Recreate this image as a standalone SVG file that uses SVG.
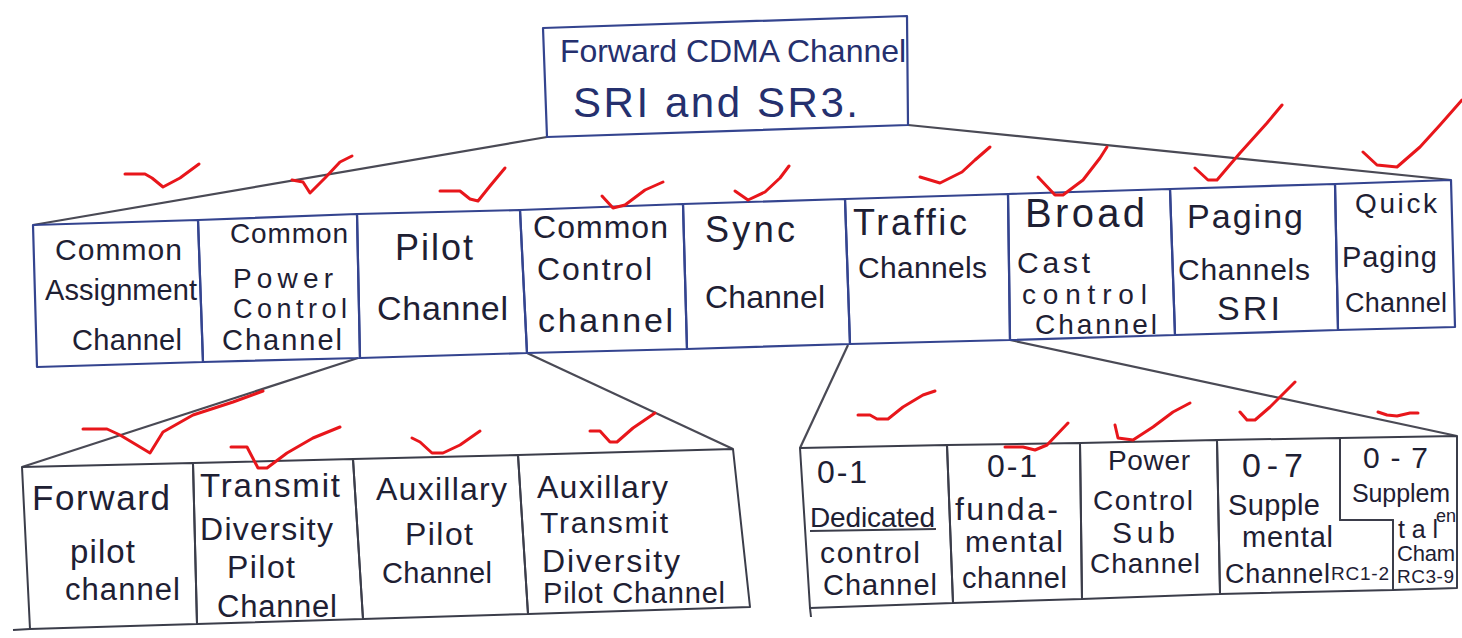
<svg xmlns="http://www.w3.org/2000/svg" width="1462" height="638" viewBox="0 0 1462 638" font-size="29">
  <style>
    .blue { fill: none; stroke: #34448f; stroke-width: 2.2; stroke-linejoin: round; }
    .grey { fill: none; stroke: #3b3d4a; stroke-width: 2; stroke-linejoin: round; }
    .link { fill: none; stroke: #4a4a55; stroke-width: 2.2; }
    .tick { fill: none; stroke: #e8161b; stroke-width: 3; stroke-linecap: round; stroke-linejoin: round; }
    text { font-family: "Liberation Sans", Arial, sans-serif; fill: #1e2033; }
    .hd { fill: #25306e; }
  </style>
  <rect width="1462" height="638" fill="#ffffff"/>

  <!-- connectors -->
  <g id="connectors">
    <line class="link" x1="547" y1="137" x2="33" y2="225"/>
    <line class="link" x1="908" y1="125" x2="1451" y2="180"/>
    <line class="link" x1="358" y1="358" x2="22" y2="467"/>
    <line class="link" x1="527" y1="353" x2="733" y2="449"/>
    <line class="link" x1="848" y1="345" x2="800" y2="448"/>
    <line class="link" x1="1010" y1="340" x2="1457" y2="436"/>
  </g>

  <!-- root -->
  <g id="forward-cdma">
    <polygon class="blue" points="543,28 907,16 908,125 547,137" stroke-width="2.6"/>
    <text class="hd" x="560" y="62" font-size="32" textLength="346">Forward CDMA Channel</text>
    <text class="hd" x="573" y="117" font-size="42" textLength="285">SRI and SR3.</text>
  </g>

  <!-- first level -->
  <g id="common-assignment">
    <polygon class="blue" points="33,225 198,220 203,362 37,367"/>
    <text x="55" y="260" font-size="30" textLength="127">Common</text>
    <text x="45" y="300" textLength="152">Assignment</text>
    <text x="72" y="350" textLength="110">Channel</text>
  </g>
  <g id="common-power-control">
    <polygon class="blue" points="198,220 357,214 360,358 203,362"/>
    <text x="230" y="243" font-size="28" textLength="118">Common</text>
    <text x="233" y="288" font-size="28" textLength="100">Power</text>
    <text x="233" y="318" font-size="27" textLength="114">Control</text>
    <text x="222" y="350" font-size="29" textLength="120">Channel</text>
  </g>
  <g id="pilot">
    <polygon class="blue" points="357,214 520,210 527,353 360,358"/>
    <text x="395" y="260" font-size="36" textLength="78">Pilot</text>
    <text x="377" y="320" font-size="34" textLength="131">Channel</text>
  </g>
  <g id="common-control">
    <polygon class="blue" points="520,210 683,204 687,349 527,353"/>
    <text x="533" y="238" font-size="32" textLength="135">Common</text>
    <text x="537" y="280" font-size="32" textLength="115">Control</text>
    <text x="538" y="332" font-size="34" textLength="135">channel</text>
  </g>
  <g id="sync">
    <polygon class="blue" points="683,204 845,199 850,344 687,349"/>
    <text x="705" y="242" font-size="36" textLength="90">Sync</text>
    <text x="705" y="308" font-size="32" textLength="120">Channel</text>
  </g>
  <g id="traffic">
    <polygon class="blue" points="845,199 1008,194 1010,340 850,344"/>
    <text x="853" y="235" font-size="36" textLength="114">Traffic</text>
    <text x="858" y="278" font-size="30" textLength="129">Channels</text>
  </g>
  <g id="broadcast-control">
    <polygon class="blue" points="1008,194 1170,189 1175,335 1010,340"/>
    <text x="1025" y="227" font-size="40" textLength="120">Broad</text>
    <text x="1017" y="273" font-size="30" textLength="73">Cast</text>
    <text x="1022" y="304" font-size="28" textLength="125">control</text>
    <text x="1035" y="334" font-size="28" textLength="122">Channel</text>
  </g>
  <g id="paging">
    <polygon class="blue" points="1170,189 1335,184 1338,330 1175,335"/>
    <text x="1187" y="228" font-size="34" textLength="116">Paging</text>
    <text x="1178" y="280" font-size="30" textLength="132">Channels</text>
    <text x="1217" y="320" font-size="34" textLength="63">SRI</text>
  </g>
  <g id="quick-paging">
    <polygon class="blue" points="1335,184 1451,180 1455,327 1338,330"/>
    <text x="1355" y="213" font-size="28" textLength="82">Quick</text>
    <text x="1342" y="267" font-size="29" textLength="95">Paging</text>
    <text x="1345" y="312" font-size="27" textLength="102">Channel</text>
  </g>

  <!-- pilot sub-channels -->
  <g id="forward-pilot">
    <polygon class="grey" points="22,467 193,463 197,624 30,629"/>
    <line class="grey" x1="13" y1="630" x2="30" y2="629"/>
    <text x="32" y="510" font-size="35" textLength="138">Forward</text>
    <text x="70" y="563" font-size="33" textLength="65">pilot</text>
    <text x="65" y="600" font-size="31" textLength="115">channel</text>
  </g>
  <g id="transmit-diversity-pilot">
    <polygon class="grey" points="193,463 353,459 363,619 197,624"/>
    <text x="200" y="497" font-size="33" textLength="140">Transmit</text>
    <text x="200" y="540" font-size="32" textLength="133">Diversity</text>
    <text x="227" y="578" font-size="32" textLength="68">Pilot</text>
    <text x="217" y="617" font-size="31" textLength="120">Channel</text>
  </g>
  <g id="auxiliary-pilot">
    <polygon class="grey" points="353,459 518,455 528,614 363,619"/>
    <text x="376" y="500" font-size="32" textLength="131">Auxillary</text>
    <text x="405" y="545" font-size="32" textLength="68">Pilot</text>
    <text x="382" y="583" font-size="29" textLength="110">Channel</text>
  </g>
  <g id="auxiliary-transmit-diversity-pilot">
    <polygon class="grey" points="518,455 733,449 750,607 528,614"/>
    <text x="537" y="498" font-size="32" textLength="131">Auxillary</text>
    <text x="540" y="533" font-size="30" textLength="128">Transmit</text>
    <text x="542" y="572" font-size="32" textLength="138">Diversity</text>
    <text x="543" y="603" textLength="182">Pilot Channel</text>
  </g>

  <!-- traffic sub-channels -->
  <g id="dedicated-control">
    <polygon class="grey" points="800,448 947,445 953,603 810,608"/>
    <line class="grey" x1="810" y1="608" x2="811" y2="617"/>
    <text x="817" y="483" font-size="32" textLength="50">0-1</text>
    <text x="810" y="527" font-size="28" textLength="125">Dedicated</text>
    <line class="grey" x1="810" y1="531" x2="936" y2="529" stroke-width="1.6"/>
    <text x="820" y="563" font-size="30" textLength="100">control</text>
    <text x="823" y="595" textLength="114">Channel</text>
  </g>
  <g id="fundamental">
    <polygon class="grey" points="947,445 1080,443 1082,599 953,603"/>
    <text x="987" y="477" font-size="32" textLength="50">0-1</text>
    <text x="955" y="520" font-size="32" textLength="103">funda-</text>
    <text x="965" y="552" font-size="30" textLength="98">mental</text>
    <text x="962" y="588" textLength="105">channel</text>
  </g>
  <g id="power-control-sub">
    <polygon class="grey" points="1080,443 1217,440 1220,594 1082,599"/>
    <text x="1108" y="470" font-size="28" textLength="82">Power</text>
    <text x="1093" y="510" font-size="28" textLength="100">Control</text>
    <text x="1112" y="543" font-size="30" textLength="63">Sub</text>
    <text x="1090" y="573" font-size="28" textLength="110">Channel</text>
  </g>
  <g id="supplemental-rc1-2">
    <polygon class="grey" points="1217,440 1340,438 1340,520 1393,520 1393,590 1220,594"/>
    <text x="1242" y="477" font-size="34" textLength="61">0-7</text>
    <text x="1228" y="515" textLength="92">Supple</text>
    <text x="1242" y="547" textLength="91" fill="#3a3f6a">mental</text>
    <text x="1225" y="583" font-size="27" textLength="105" fill="#3a3f6a">Channel</text>
    <text x="1331" y="580" font-size="19" textLength="58">RC1-2</text>
  </g>
  <g id="supplemental-rc3-9">
    <polygon class="grey" points="1340,438 1457,436 1457,588 1393,590 1393,520 1340,520"/>
    <text x="1363" y="468" font-size="30" textLength="65">0-7</text>
    <text x="1352" y="502" font-size="25" textLength="98">Supplem</text>
    <text x="1436" y="522" font-size="18" textLength="20">en</text>
    <text x="1398" y="538" font-size="25" textLength="40">tal</text>
    <text x="1397" y="561" font-size="22" textLength="58">Cham</text>
    <text x="1397" y="583" font-size="19" textLength="57">RC3-9</text>
  </g>

  <!-- red tick marks -->
  <g id="ticks">
    <polyline class="tick" points="125,174 145,174 152,178 163,187 180,178 199,164"/>
    <polyline class="tick" points="292,180 303,182 310,193 325,178 340,162 352,156"/>
    <polyline class="tick" points="440,191 460,191 470,199 478,201 490,186 505,168"/>
    <polyline class="tick" points="602,196 613,208 625,205 645,190 663,182"/>
    <polyline class="tick" points="735,191 748,200 765,192 780,178 789,166"/>
    <polyline class="tick" points="920,177 940,183 962,172 975,160 990,147"/>
    <polyline class="tick" points="1038,177 1055,195 1063,195 1083,180 1100,158 1107,147"/>
    <polyline class="tick" points="1195,168 1208,180 1217,180 1240,153 1267,123 1282,105"/>
    <polyline class="tick" points="1363,152 1377,165 1397,167 1420,147 1440,125 1462,100"/>
    <polyline class="tick" points="83,429 107,429 120,435 150,453 163,432 193,415 233,402 263,391"/>
    <polyline class="tick" points="231,447 247,447 258,468 267,468 287,453 313,438 340,427"/>
    <polyline class="tick" points="412,438 420,442 432,453 443,453 460,445 480,431"/>
    <polyline class="tick" points="590,431 600,431 610,442 617,442 633,428 655,413"/>
    <polyline class="tick" points="858,415 870,415 877,419 888,419 903,407 923,395 935,391"/>
    <polyline class="tick" points="1005,447 1023,447 1035,450 1047,445 1068,423"/>
    <polyline class="tick" points="1115,425 1118,438 1133,440 1153,427 1173,412 1190,403"/>
    <polyline class="tick" points="1240,412 1247,420 1255,420 1270,407 1287,390 1295,382"/>
    <polyline class="tick" points="1378,412 1387,415 1397,416 1410,413 1418,413"/>
  </g>
</svg>
